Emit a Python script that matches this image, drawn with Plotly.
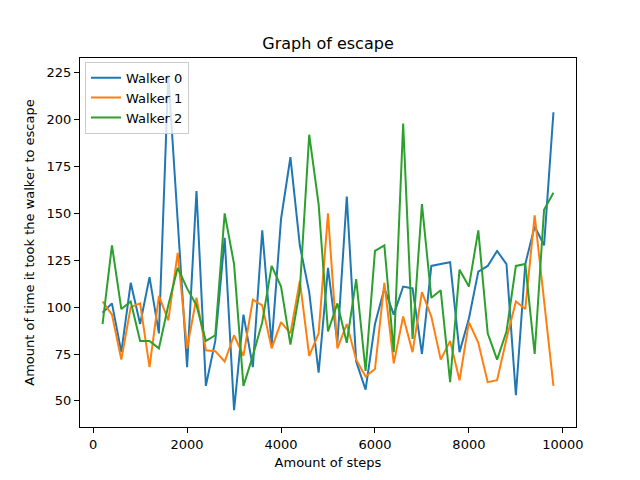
import plotly.graph_objects as go

# amount of steps for every run
steps = list(range(200, 10000, 200))

# time it took each walker to escape
walker_0 = [97, 102, 76, 113, 91, 116, 86, 224, 146, 68,
            162, 58, 82, 137, 45, 96, 68, 141, 80, 147,
            180, 133, 108, 65, 121, 81, 159, 71, 56, 91,
            110, 96, 111, 110, 75, 122, 123, 124, 76, 94,
            119, 122, 130, 123, 53, 123, 143, 133, 204]
walker_1 = [103, 96, 72, 100, 102, 68, 106, 93, 129, 78,
            105, 77, 76.5, 71, 85, 74, 104, 101, 78, 92,
            86, 114, 74, 86, 150, 78, 91, 72, 63, 67,
            113, 70, 95, 76, 108, 95, 72, 82, 61, 92,
            81, 60, 61, 83, 103, 99, 149, 104, 58]
walker_2 = [91, 133, 99, 103, 82, 82, 78, 101, 121, 110,
            101, 82, 85, 150, 123, 58, 74, 92, 122, 111,
            80, 109, 192, 155, 87, 102, 81, 115, 66, 130,
            133, 76, 198, 83, 155, 105, 109, 60, 120, 111,
            141, 86, 72, 87, 122, 123, 75, 152, 161]

names = ["Walker 0", "Walker 1", "Walker 2"]
colors = ["#1f77b4", "#ff7f0e", "#2ca02c"]

fig = go.Figure()
for name, ys, c in zip(names, [walker_0, walker_1, walker_2], colors):
    fig.add_trace(go.Scatter(x=steps, y=ys, mode="lines", name=name,
                             line=dict(color=c, width=2)))

axis_style = dict(showline=True, linecolor="black", linewidth=1, mirror=True,
                  ticks="outside", tickcolor="black", ticklen=5,
                  showgrid=False, zeroline=False, automargin=False,
                  tickfont=dict(size=13, color="black"))

fig.update_xaxes(range=[-280, 10280], tickvals=[0, 2000, 4000, 6000, 8000, 10000],
                 tickformat="d", title=dict(text="Amount of steps", font=dict(size=13, color="black"),
                                            standoff=7),
                 **axis_style)
fig.update_yaxes(range=[36.05, 232.95], tickvals=[50, 75, 100, 125, 150, 175, 200, 225],
                 title=dict(text="Amount of time it took the walker to escape",
                            font=dict(size=13, color="black"), standoff=9),
                 **axis_style)

# the page puts the chart 8px in from the top left corner, so the margins make up for it
fig.update_layout(
    width=640, height=480,
    margin=dict(l=72, r=72, t=50, b=61),
    paper_bgcolor="white", plot_bgcolor="white",
    font=dict(family="DejaVu Sans", color="black"),
    title=dict(text="Graph of escape", x=0.5, xref="paper", xanchor="center",
               y=1 - 35 / 480, yref="container", yanchor="middle",
               font=dict(size=16, color="black")),
    legend=dict(x=0.01, y=0.99, xanchor="left", yanchor="top",
                bgcolor="rgba(255,255,255,0.8)", bordercolor="#cccccc", borderwidth=1,
                font=dict(size=13, color="black")),
)

fig.write_html("out.html")
